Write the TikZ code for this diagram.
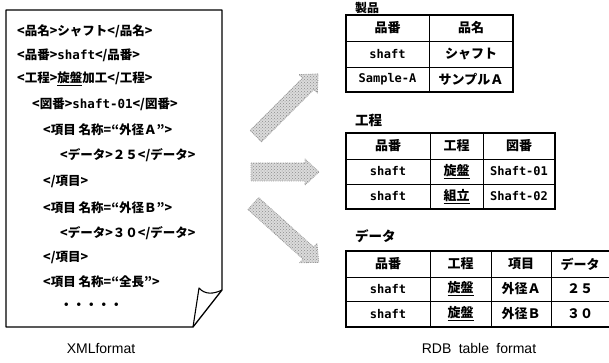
\documentclass[tikz,border=0pt]{standalone}
\usepackage{fontspec}
\setmainfont{Noto Sans CJK JP}
\newfontfamily\mono{DejaVu Sans Mono}
\newfontfamily\lab{Liberation Sans}
\usetikzlibrary{patterns}
\begin{document}
\begin{tikzpicture}[x=1pt,y=-1pt,
  doc/.style={anchor=west,inner sep=0pt,font=\bfseries\fontsize{12.5}{14}\selectfont},
  cell/.style={inner sep=0pt,font=\bfseries\fontsize{13}{15}\selectfont},
  mcell/.style={inner sep=0pt,font=\mono\bfseries\fontsize{12}{14}\selectfont},
  tlabel/.style={anchor=west,inner sep=0pt,font=\bfseries\fontsize{13.5}{15}\selectfont},
  caption/.style={inner sep=0pt,font=\lab\fontsize{14}{16}\selectfont},
  outerline/.style={line width=1.6pt},
  innerline/.style={line width=0.8pt},
  bigarrow/.style={draw=gray!80, densely dotted, line width=0.8pt, line join=round,
    preaction={fill=gray!28}, pattern=crosshatch dots, pattern color=gray!90}]
\useasboundingbox (0,0) rectangle (609,363);
\fill[white] (0,0) rectangle (609,363);

% XML document sheet
\draw[line width=1.3pt, line join=round] (6,10) -- (222,10) -- (222,290) -- (193,327) -- (6,327) -- cycle;
\draw[line width=1.1pt, line join=round] (193,327) -- (199,288) .. controls (205,295) and (214,294) .. (222,290);

\node[doc] (l1)  at (17,31)  {<品名>シャフト</品名>};
\node[doc] (l2)  at (17,55)  {<品番>{\mono shaft}</品番>};
\node[doc] (l3)  at (17,79)  {<工程>\underline{旋盤}加工</工程>};
\node[doc] (l4)  at (32,104) {<図番>{\mono shaft-01}</図番>};
\node[doc] (l5)  at (43,130) {<項目\ 名称=“外径Ａ”>};
\node[doc] (l6)  at (60,155) {<データ>２５</データ>};
\node[doc] (l7)  at (43,182) {</項目>};
\node[doc] (l8)  at (43,208) {<項目\ 名称=“外径Ｂ”>};
\node[doc] (l9)  at (60,233) {<データ>３０</データ>};
\node[doc] (l10) at (43,258) {</項目>};
\node[doc] (l11) at (43,282) {<項目\ 名称=“全長”>};
\node[doc] (l12) at (60,306) {・・・・・};

\node[caption] (xmlf) at (101,348) {XMLformat};
\node[caption] (rdbf) at (479,348) {RDB\hspace{0.25em} table\hspace{0.25em} format};

% arrows
\begin{scope}[shift={(287,105)}, rotate=45]
  \draw[bigarrow] (-44,-8) -- (30,-8) -- (30,-13) -- (44,0) -- (30,13) -- (30,8) -- (-44,8) -- cycle;
\end{scope}
\begin{scope}[shift={(285,172)}]
  \draw[bigarrow] (-34,-9) -- (20,-9) -- (20,-13) -- (34,0) -- (20,13) -- (20,9) -- (-34,9) -- cycle;
\end{scope}
\begin{scope}[shift={(286,233)}, rotate=-42]
  \draw[bigarrow] (-44,-8) -- (30,-8) -- (30,-13) -- (44,0) -- (30,13) -- (30,8) -- (-44,8) -- cycle;
\end{scope}

% table: 製品
\node[tlabel, font=\bfseries\fontsize{12}{14}\selectfont] (t1) at (355,7.5) {製品};
\draw[outerline] (346,15) rectangle (513,92);
\draw[innerline] (346,41) -- (513,41) (346,67) -- (513,67) (429,15) -- (429,92);
\node[cell]  (p11) at (387.5,28)  {品番};
\node[cell]  (p12) at (471,28)    {品名};
\node[mcell] (p21) at (387.5,54)  {shaft};
\node[cell]  (p22) at (471,54)    {シャフト};
\node[mcell] (p31) at (387.5,79.5){Sample-A};
\node[cell]  (p32) at (471,79.5)  {サンプルＡ};

% table: 工程
\node[tlabel] (t2) at (355,120) {工程};
\draw[outerline] (346,133) rectangle (555,209);
\draw[innerline] (346,159) -- (555,159) (346,184) -- (555,184) (430,133) -- (430,209) (483,133) -- (483,209);
\node[cell]  (k11) at (388,146)   {品番};
\node[cell]  (k12) at (456.5,146) {工程};
\node[cell]  (k13) at (519,146)   {図番};
\node[mcell] (k21) at (388,171.5) {shaft};
\node[cell]  (k22) at (456.5,171.5) {\underline{旋盤}};
\node[mcell] (k23) at (519,171.5) {Shaft-01};
\node[mcell] (k31) at (388,196.5) {shaft};
\node[cell]  (k32) at (456.5,196.5) {\underline{組立}};
\node[mcell] (k33) at (519,196.5) {Shaft-02};

% table: データ
\node[tlabel] (t3) at (355,236) {データ};
\draw[outerline] (609,251) -- (346,251) -- (346,327) -- (609,327);
\draw[innerline] (346,277) -- (609,277) (346,301) -- (609,301)
  (430,251) -- (430,327) (491,251) -- (491,327) (551,251) -- (551,327);
\node[cell]  (d11) at (388,264)   {品番};
\node[cell]  (d12) at (460.5,264) {工程};
\node[cell]  (d13) at (521,264)   {項目};
\node[cell]  (d14) at (580,264)   {データ};
\node[mcell] (d21) at (388,289)   {shaft};
\node[cell]  (d22) at (460.5,289) {\underline{旋盤}};
\node[cell]  (d23) at (521,289)   {外径Ａ};
\node[cell]  (d24) at (580,289)   {２５};
\node[mcell] (d31) at (388,314)   {shaft};
\node[cell]  (d32) at (460.5,314) {\underline{旋盤}};
\node[cell]  (d33) at (521,314)   {外径Ｂ};
\node[cell]  (d34) at (580,314)   {３０};
\end{tikzpicture}
\end{document}
